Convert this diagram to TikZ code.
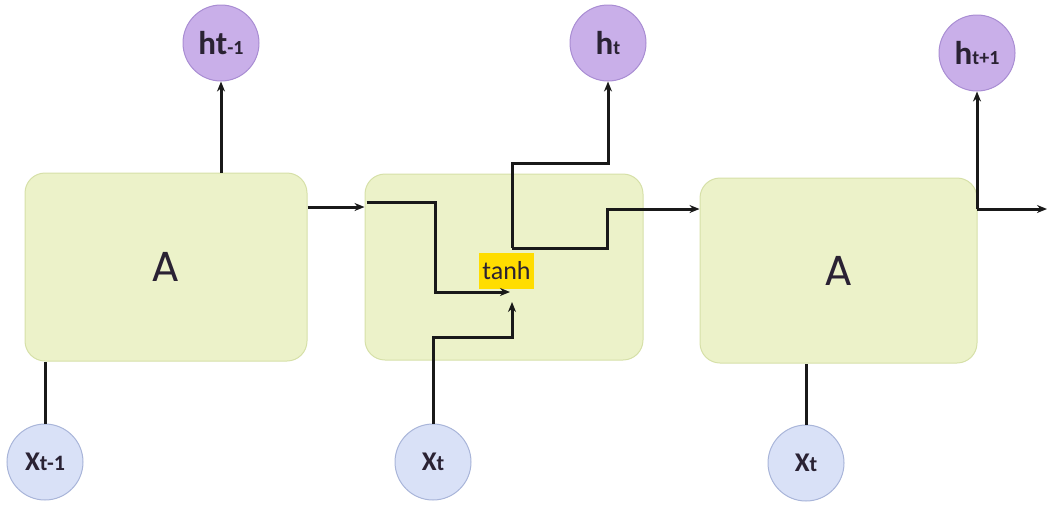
\documentclass[tikz,border=0pt]{standalone}
\usepackage{fontspec}
\setmainfont{Carlito}
\newfontfamily\geofont{Poppins}
\usetikzlibrary{arrows.meta}

\definecolor{cellfill}{HTML}{ECF2C9}
\definecolor{celldraw}{HTML}{D6E0A8}
\definecolor{hfill}{HTML}{C9AFE9}
\definecolor{hdraw}{HTML}{A98DD3}
\definecolor{xfill}{HTML}{D9E1F7}
\definecolor{xdraw}{HTML}{A9B5D9}
\definecolor{tanhhl}{HTML}{FFDD00}
\definecolor{ink}{HTML}{2A2233}

\newcommand{\bigtxt}[1]{{\bfseries\fontsize{33}{33}\selectfont #1}}
\newcommand{\smalltxt}[1]{{\bfseries\fontsize{20}{20}\selectfont #1}}
\newcommand{\xbig}[1]{{\bfseries\fontsize{27}{27}\selectfont #1}}
\newcommand{\xsmall}[1]{{\bfseries\fontsize{22}{22}\selectfont #1}}

\tikzset{
  cell/.style={rectangle, rounded corners=20pt, fill=cellfill, draw=celldraw,
    line width=1pt, inner sep=0pt, text=ink},
  hout/.style={circle, minimum size=76pt, inner sep=0pt, fill=hfill,
    draw=hdraw, line width=1pt, text=ink},
  xin/.style={circle, minimum size=76pt, inner sep=0pt, fill=xfill,
    draw=xdraw, line width=1pt, text=ink},
  wire/.style={line width=3pt, black!90},
  arr/.style={wire, -{Stealth[length=10pt,width=8pt]}},
  gate/.style={fill=tanhhl, inner sep=0pt, minimum width=55pt,
    minimum height=36pt, text=ink},
}

\begin{document}
\begin{tikzpicture}[x=1pt, y=-1pt]
\useasboundingbox (0,0) rectangle (1051,504);

% the three unrolled cells
\node[cell, minimum width=282pt, minimum height=188pt] (A1) at (166,267)
  {\geofont\fontsize{42}{42}\selectfont A};
\node[cell, minimum width=278pt, minimum height=186pt] (A2) at (504,267) {};
\node[cell, minimum width=277pt, minimum height=185pt] (A3) at (838.5,270.5)
  {\geofont\fontsize{42}{42}\selectfont A};

% hidden-state outputs
\node[hout] (h1) at (221,43) {\bigtxt{ht}\smalltxt{-1}};
\node[hout] (h2) at (608,43) {\bigtxt{h}\smalltxt{t}};
\node[hout] (h3) at (977,53) {\bigtxt{h}\smalltxt{t+1}};

% inputs
\node[xin] (x1) at (45,462) {\xbig{X}\xsmall{t-1}};
\node[xin] (x2) at (433,462) {\xbig{X}\xsmall{t}};
\node[xin] (x3) at (806,463) {\xbig{X}\xsmall{t}};

% activation inside the middle cell
\node[gate] (th) at (506.5,271) {\fontsize{26}{26}\selectfont tanh};

% routing points
\coordinate (r207) at (0,207);
\coordinate (c1) at (435,202);
\coordinate (tinL) at (510,292);
\coordinate (c2) at (512,337);
\coordinate (tinB) at (512,302);
\coordinate (tout) at (512,248);
\coordinate (up) at (512,163);
\coordinate (c3) at (607,209);
\coordinate (out3) at (1047,209);

% first cell
\draw[arr] (A1.north -| h1.south) -- (h1.south);
\draw[wire] (x1.north) -- (x1.north |- A1.south);
\draw[arr] (A1.east |- r207) -- (A2.west |- r207);

% middle cell wiring
\draw[arr] (A2.west |- c1) ++(2,0) -- (c1) |- (tinL);
\draw[arr] (x2.north) |- (c2) -- (tinB);
\draw[arr] (tout) -- (up) -| (h2.south);
\draw[arr] (tout) -| (c3) -- (A3.west |- c3);

% last cell
\draw[arr] (h3.south |- c3) -- (out3);
\draw[arr] (h3.south |- c3) -- (h3.south);
\draw[wire] (x3.north) -- (x3.north |- A3.south);
\end{tikzpicture}
\end{document}
